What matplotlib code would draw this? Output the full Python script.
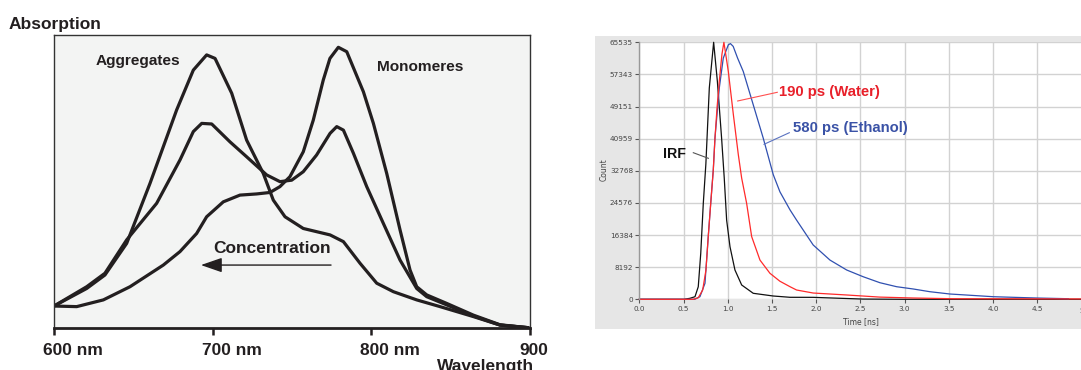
import matplotlib
matplotlib.use("Agg")
import matplotlib.pyplot as plt
import matplotlib.transforms as mtransforms
from matplotlib.patches import Rectangle

# ---------------- data: absorption spectra (left) ----------------
wl_high = [600, 620.6, 632.1, 645.8, 660.5, 677.3, 687.8, 696.2, 701.5, 712.0, 721.4, 731.9,
           738.2, 745.6, 757.1, 774.0, 782.4, 792.9, 803.4, 813.9, 828.6, 843.3, 864.3, 881.1, 898.9]
abs_high = [0.074, 0.134, 0.180, 0.288, 0.493, 0.744, 0.880, 0.932, 0.920, 0.801, 0.641, 0.527,
            0.436, 0.379, 0.339, 0.317, 0.294, 0.220, 0.152, 0.123, 0.095, 0.072, 0.038, 0.009, 0.000]

wl_mid = [600, 620.6, 632.1, 645.8, 664.7, 679.4, 687.8, 693.1, 699.4, 710.9, 721.4, 734.0, 742.4,
          749.8, 757.1, 765.5, 774.0, 778.2, 782.4, 788.7, 797.1, 807.6, 818.1, 828.6, 834.9,
          847.5, 864.3, 881.1, 898.9]
abs_mid = [0.074, 0.140, 0.186, 0.300, 0.425, 0.573, 0.670, 0.698, 0.696, 0.635, 0.584, 0.522, 0.499,
           0.504, 0.533, 0.590, 0.664, 0.687, 0.675, 0.596, 0.482, 0.356, 0.231, 0.134, 0.106,
           0.078, 0.040, 0.009, 0.000]

wl_low = [600, 614.3, 631.1, 647.9, 668.9, 679.4, 689.9, 696.2, 706.7, 717.2, 727.7, 736.1, 742.4,
          748.7, 757.1, 763.4, 769.7, 773.9, 779.2, 784.5, 795.0, 801.3, 809.7, 818.1, 824.4,
          828.6, 834.9, 847.5, 864.3, 881.1, 898.9]
abs_low = [0.074, 0.072, 0.095, 0.140, 0.214, 0.260, 0.322, 0.379, 0.430, 0.453, 0.457, 0.462, 0.482,
           0.516, 0.601, 0.709, 0.846, 0.920, 0.958, 0.943, 0.806, 0.698, 0.527, 0.334, 0.197,
           0.140, 0.112, 0.083, 0.043, 0.010, 0.000]

wl_ticks = [600, 700, 800, 900]
wl_labels = ["600 nm", "700 nm", "800 nm", "900"]

# ---------------- data: fluorescence decays (right) ----------------
t_irf = [0.0, 0.506, 0.573, 0.630, 0.667, 0.695, 0.724, 0.753, 0.792, 0.841, 0.883, 0.931, 0.961,
         0.988, 1.026, 1.082, 1.158, 1.289, 1.515, 1.705, 1.967, 2.22, 2.53, 3.0, 4.99]
c_irf = [0, 0, 255, 660, 3200, 11700, 24500, 34500, 53900, 65535, 55600, 41100, 30900,
         20200, 13400, 7470, 3650, 1530, 840, 510, 500, 300, 60, 0, 0]

t_water = [0.0, 0.61, 0.667, 0.717, 0.754, 0.780, 0.808, 0.837, 0.856, 0.880, 0.905, 0.935, 0.957,
           0.981, 1.007, 1.064, 1.120, 1.158, 1.214, 1.271, 1.365, 1.478, 1.591, 1.705, 1.779,
           1.967, 2.346, 2.722, 3.099, 3.54, 4.99]
c_water = [0, 0, 400, 2370, 7470, 16000, 24500, 33000, 41100, 49000, 55600, 62500, 65535,
           62000, 58100, 47100, 36900, 30900, 24500, 16000, 10000, 6630, 4600, 3210, 2370,
           1600, 1100, 560, 330, 150, 90]

t_ethanol = [0.0, 0.627, 0.686, 0.743, 0.780, 0.808, 0.837, 0.856, 0.905, 0.950, 1.007, 1.031, 1.062,
             1.112, 1.176, 1.289, 1.402, 1.515, 1.591, 1.705, 1.779, 1.967, 2.157, 2.346, 2.532,
             2.722, 2.911, 3.099, 3.286, 3.514, 4.004, 4.494, 4.853]
c_ethanol = [0, 0, 660, 4080, 16000, 24500, 33000, 41100, 53900, 61500, 64900, 65200, 64500,
             61500, 58100, 49600, 41100, 31800, 27400, 22800, 20200, 13850, 10000, 7470, 5760,
             4230, 3210, 2630, 1940, 1350, 660, 330, 150]

count_ticks = [0, 8192, 16384, 24576, 32768, 40959, 49151, 57343, 65535]
count_labels = ["0", "8192", "16384", "24576", "32768", "40959", "49151", "57343", "65535"]
time_ticks = [0.0, 0.5, 1.0, 1.5, 2.0, 2.5, 3.0, 3.5, 4.0, 4.5]
time_labels = ["0.0", "0.5", "1.0", "1.5", "2.0", "2.5", "3.0", "3.5", "4.0", "4.5"]

# ---------------- figure ----------------
W, H = 1081, 370
fig = plt.figure(figsize=(W / 100, H / 100), dpi=100)
fig.patch.set_facecolor("white")


def fx(px):
    return px / W


def fy(py):
    return 1 - py / H


BOLD = dict(family=["Liberation Sans", "DejaVu Sans"], fontweight="bold")
INK = "#231f20"

# ---------- left panel ----------
axL = fig.add_axes([fx(54), fy(327.7), fx(530) - fx(54), fy(35) - fy(327.7)])
axL.set_facecolor("#f3f4f3")
for wl, ab in ((wl_high, abs_high), (wl_mid, abs_mid), (wl_low, abs_low)):
    axL.plot(wl, ab, color=INK, lw=2.3, solid_joinstyle="round", solid_capstyle="round")
axL.set_xlim(600, 900)
axL.set_ylim(0, 1)
axL.set_yticks([])
axL.set_xticks(wl_ticks)
axL.set_xticklabels([])
axL.tick_params(axis="x", direction="out", length=5, width=1.8, color=INK)
xlab_tr = mtransforms.blended_transform_factory(axL.transData, fig.transFigure) + \
    mtransforms.ScaledTranslation(-11 / 100, 0, fig.dpi_scale_trans)
for tk, lb in zip(wl_ticks, wl_labels):
    axL.text(tk, fy(355), lb, transform=xlab_tr, fontsize=12.5, color=INK,
             ha="left", va="baseline", clip_on=False, **BOLD)
for s in ("top", "right", "left"):
    axL.spines[s].set_color("#333333")
    axL.spines[s].set_linewidth(1.0)
axL.spines["bottom"].set_color(INK)
axL.spines["bottom"].set_linewidth(2.0)

axL.text(626.5, 0.897, "Aggregates", fontsize=11.1, color=INK, va="baseline", **BOLD)
axL.text(803.8, 0.878, "Monomeres", fontsize=11.1, color=INK, va="baseline", **BOLD)
axL.text(700.4, 0.256, "Concentration", fontsize=12.5, color=INK, va="baseline", **BOLD)
axL.annotate("", xy=(692.6, 0.214), xytext=(774.6, 0.214),
             arrowprops=dict(arrowstyle="-|>,head_length=1.3,head_width=0.45",
                             mutation_scale=10, lw=1.0, color=INK, shrinkA=0, shrinkB=0))

fig.text(fx(9), fy(29), "Absorption", fontsize=12.5, color=INK, va="baseline", ha="left", **BOLD)
fig.text(fx(534.5), fy(370.5), "Wavelength", fontsize=12.5, color=INK, va="baseline", ha="right", **BOLD)

# ---------- right panel ----------
fig.patches.append(Rectangle((fx(595), fy(329.3)), 1 - fx(595), fy(36) - fy(329.3),
                             transform=fig.transFigure, facecolor="#e6e6e6",
                             edgecolor="none", zorder=-5))

axR = fig.add_axes([fx(639.3), fy(299.3), 1 - fx(639.3), fy(42.3) - fy(299.3)])
axR.set_zorder(3)
axR.set_facecolor("white")
axR.set_xlim(0, (W - 639.3) / 88.4)
axR.set_ylim(0, 65535)
axR.set_yticks(count_ticks)
axR.set_yticklabels(count_labels)
axR.set_xticks(time_ticks)
axR.set_xticklabels(time_labels)
axR.grid(True, color="#d2d2d2", lw=1.0)
axR.set_axisbelow(True)
axR.tick_params(axis="both", direction="out", length=3, width=0.8, color="#555555",
                labelsize=5.2, labelcolor="#444444", pad=1.5)
for s in ("top", "right", "bottom"):
    axR.spines[s].set_visible(False)
axR.spines["left"].set_color("#999999")
axR.spines["left"].set_linewidth(1.0)

axR.plot(t_irf, c_irf, color="#111111", lw=0.9, clip_on=False)
axR.plot(t_ethanol, c_ethanol, color="#3050b0", lw=0.9, clip_on=False)
axR.plot(t_water, c_water, color="#ff2a2a", lw=0.9, clip_on=False)

axR.text(5.0, -0.035, "5", transform=mtransforms.blended_transform_factory(axR.transData, axR.transAxes),
         fontsize=5.2, color="#444444", ha="center", va="top", clip_on=False)

RED_T = "#e8202a"
BLUE_T = "#3a52a6"
axR.text(1.580, 51840, "190 ps (Water)", fontsize=10.7, color=RED_T, va="baseline", **BOLD)
axR.plot([1.113, 1.561], [50570, 52785], color="#ff5050", lw=0.8)
axR.text(1.742, 42585, "580 ps (Ethanol)", fontsize=10.7, color=BLUE_T, va="baseline", **BOLD)
axR.plot([1.411, 1.697], [39525, 42480], color="#5a72c0", lw=0.8)
axR.text(0.271, 35955, "IRF", fontsize=10.2, color="#111111", va="baseline", **BOLD)
axR.plot([0.611, 0.781], [37380, 35955], color="#555555", lw=0.8)

fig.text(fx(604), fy(170), "Count", rotation=90, ha="center", va="center", fontsize=5.5, color="#444444")
fig.text(fx(860.7), fy(321.7), "Time [ns]", ha="center", va="center", fontsize=5.5, color="#444444")

fig.savefig("out.png", dpi=100)
